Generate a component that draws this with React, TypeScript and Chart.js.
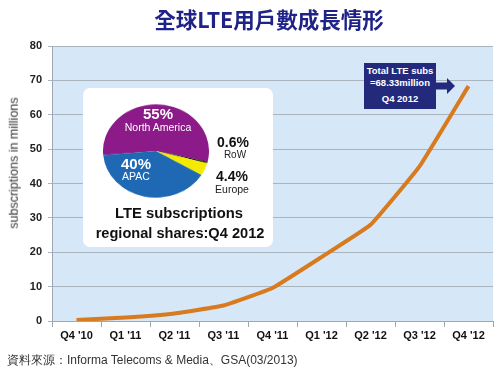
import React, { useEffect, useRef } from 'react';
import { Chart, registerables } from 'chart.js';

Chart.register(...registerables);

const quarters = ["Q4 '10", "Q1 '11", "Q2 '11", "Q3 '11", "Q4 '11", "Q1 '12", "Q2 '12", "Q3 '12", "Q4 '12"];
const subscriptions = [0.3, 1.0, 2.2, 4.5, 9.6, 18.6, 28.0, 45.0, 68.33];
const yMin = 0;
const yMax = 80;
const yStep = 10;

const regions = ['North America', 'RoW', 'Europe', 'APAC'];
const regionShares = [55, 0.6, 4.4, 40];
const regionColors = ['#8c1a88', '#111111', '#f2ea00', '#1f68b3'];

const FONT = '"Liberation Sans", Arial, sans-serif';

const bgPlugin = {
  id: 'plotBg',
  beforeDraw(chart: any) {
    const { ctx, chartArea } = chart;
    if (!chartArea) return;
    ctx.save();
    ctx.fillStyle = '#d6e7f7';
    ctx.fillRect(chartArea.left, chartArea.top, chartArea.right - chartArea.left, chartArea.bottom - chartArea.top);
    ctx.restore();
  },
};

function Label(props: { x: number; y: number; size: number; bold?: boolean; color: string; text: string; family?: string }) {
  return (
    <div
      style={{
        position: 'absolute',
        left: props.x,
        top: props.y,
        transform: 'translate(-50%, -50%)',
        whiteSpace: 'nowrap',
        fontSize: props.size,
        fontWeight: props.bold ? 700 : 400,
        color: props.color,
        fontFamily: props.family || FONT,
        lineHeight: 1,
      }}
    >
      {props.text}
    </div>
  );
}

export default function App() {
  const mainRef = useRef<HTMLCanvasElement | null>(null);
  const pieRef = useRef<HTMLCanvasElement | null>(null);

  useEffect(() => {
    const main = new Chart(mainRef.current as HTMLCanvasElement, {
      type: 'line',
      data: {
        labels: quarters,
        datasets: [
          {
            data: subscriptions,
            borderColor: '#d87a1e',
            borderWidth: 4,
            pointRadius: 0,
            tension: 0.1,
            fill: false,
          },
        ],
      },
      options: {
        responsive: false,
        animation: false,
        layout: { padding: { left: 0, right: 7, top: 46, bottom: 28 } },
        plugins: { legend: { display: false }, tooltip: { enabled: false }, title: { display: false } },
        scales: {
          x: {
            offset: true,
            grid: { offset: true, drawOnChartArea: false, drawTicks: true, tickLength: 6, color: '#9ea8b2' },
            border: { color: '#9ea8b2' },
            ticks: { font: { family: FONT, size: 11, weight: 'bold' }, color: '#111', padding: 2, maxRotation: 0, autoSkip: false },
            afterFit: (s: any) => {
              s.height = 26;
            },
          },
          y: {
            min: yMin,
            max: yMax,
            ticks: { stepSize: yStep, font: { family: FONT, size: 11, weight: 'bold' }, color: '#222', padding: 6 },
            grid: { color: '#aab4be', tickLength: 4, drawTicks: true },
            border: { color: '#9ea8b2' },
            afterFit: (s: any) => {
              s.width = 52;
            },
          },
        },
      } as any,
      plugins: [bgPlugin],
    });

    const pie = new Chart(pieRef.current as HTMLCanvasElement, {
      type: 'pie',
      data: {
        labels: regions,
        datasets: [{ data: regionShares, backgroundColor: regionColors, borderWidth: 0 }],
      },
      options: {
        responsive: false,
        animation: false,
        rotation: -95,
        layout: { padding: 0 },
        plugins: { legend: { display: false }, tooltip: { enabled: false } },
      } as any,
    });

    return () => {
      main.destroy();
      pie.destroy();
    };
  }, []);

  return (
    <div style={{ position: 'fixed', left: 0, top: 0, width: 500, height: 375, background: '#fff', overflow: 'hidden' }}>
      <canvas ref={mainRef} width={500} height={375} style={{ position: 'absolute', left: 0, top: 0 }} />

      <Label x={269} y={19} size={21.5} bold color="#1f2388" text="全球LTE用戶數成長情形" family='"Noto Sans CJK TC", "Noto Sans CJK SC", sans-serif' />

      <div
        style={{
          position: 'absolute',
          left: 14,
          top: 163,
          transform: 'translate(-50%, -50%) rotate(-90deg)',
          whiteSpace: 'nowrap',
          fontSize: 12.5,
          fontFamily: FONT,
          color: '#333',
          lineHeight: 1,
        }}
      >
        subscriptions in millions
      </div>

      {/* pie inset */}
      <div style={{ position: 'absolute', left: 83, top: 88, width: 190, height: 159, background: '#fff', borderRadius: 7 }} />
      <div style={{ position: 'absolute', left: 103, top: 98, width: 106, height: 106, transform: 'scaleY(0.88)' }}>
        <canvas ref={pieRef} width={106} height={106} />
      </div>
      <Label x={158} y={113} size={15} bold color="#fff" text="55%" />
      <Label x={158} y={127} size={10.5} color="#fff" text="North America" />
      <Label x={136} y={163} size={15} bold color="#fff" text="40%" />
      <Label x={136} y={176} size={10.5} color="#fff" text="APAC" />
      <Label x={233} y={142} size={14} bold color="#111" text="0.6%" />
      <Label x={235} y={155} size={10} color="#222" text="RoW" />
      <Label x={232} y={176} size={14} bold color="#111" text="4.4%" />
      <Label x={232} y={189} size={10.5} color="#222" text="Europe" />
      <Label x={179} y={213} size={14.8} bold color="#111" text="LTE subscriptions" />
      <Label x={180} y={233} size={14.6} bold color="#111" text="regional shares:Q4 2012" />

      {/* annotation */}
      <div style={{ position: 'absolute', left: 364, top: 63, width: 72, height: 46, background: '#232a7c' }} />
      <Label x={400} y={71} size={9.5} bold color="#fff" text="Total LTE subs" />
      <Label x={400} y={83} size={9.5} bold color="#fff" text="=68.33million" />
      <Label x={400} y={99} size={9.5} bold color="#fff" text="Q4 2012" />
      <svg style={{ position: 'absolute', left: 436, top: 78 }} width={20} height={16}>
        <rect x={0} y={4.5} width={11} height={7} fill="#232a7c" />
        <polygon points="11,0 19,8 11,16" fill="#232a7c" />
      </svg>

      <div
        style={{
          position: 'absolute',
          left: 7,
          top: 360,
          transform: 'translateY(-50%)',
          whiteSpace: 'nowrap',
          fontSize: 12,
          fontFamily: FONT,
          color: '#333',
          lineHeight: 1,
        }}
      >
        資料來源：Informa Telecoms &amp; Media、GSA(03/2013)
      </div>
    </div>
  );
}
